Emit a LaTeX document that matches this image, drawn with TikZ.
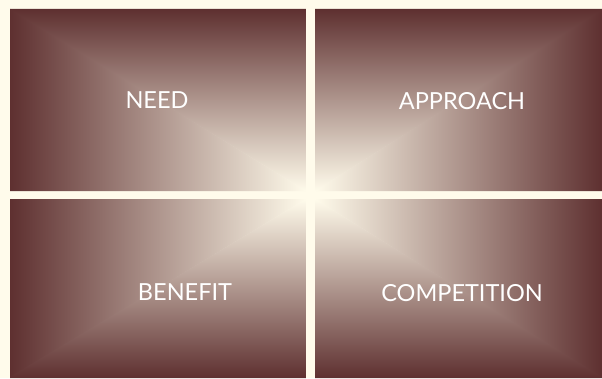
\documentclass[tikz,border=0pt]{standalone}
\usepackage{fontspec}
\setmainfont{Lato}
\definecolor{maroon}{RGB}{94,48,48}
\definecolor{cream}{RGB}{255,251,235}
\pgfdeclarehorizontalshading{hdarkleft}{100bp}{color(0bp)=(maroon); color(25bp)=(maroon); color(75bp)=(cream); color(100bp)=(cream)}
\pgfdeclarehorizontalshading{hdarkright}{100bp}{color(0bp)=(cream); color(25bp)=(cream); color(75bp)=(maroon); color(100bp)=(maroon)}
\pgfdeclareverticalshading{vdarktop}{100bp}{color(0bp)=(cream); color(25bp)=(cream); color(75bp)=(maroon); color(100bp)=(maroon)}
\pgfdeclareverticalshading{vdarkbottom}{100bp}{color(0bp)=(maroon); color(25bp)=(maroon); color(75bp)=(cream); color(100bp)=(cream)}
\tikzset{lbl/.style={text=white, font=\fontsize{23.5}{28}\selectfont, inner sep=0pt}}
\begin{document}
\begin{tikzpicture}[x=1pt,y=1pt]
\useasboundingbox (0,0) rectangle (602,378);
\fill[cream] (0,0) rectangle (602,378);
% TL: light corner (306,187)
\shade[shading=hdarkleft] (306,187) -- (10,369) -- (10,187) -- cycle;
\begin{scope}
\clip (10,187) rectangle (306,369);
\shade[shading=vdarktop] (306,187) -- (8,369) -- (306,369) -- cycle;
\end{scope}
% TR: light corner (315,187)
\shade[shading=hdarkright] (315,187) -- (602,369) -- (602,187) -- cycle;
\begin{scope}
\clip (315,187) rectangle (602,369);
\shade[shading=vdarktop] (315,187) -- (604,369) -- (315,369) -- cycle;
\end{scope}
% BL: light corner (306,179)
\shade[shading=hdarkleft] (306,179) -- (10,0) -- (10,179) -- cycle;
\begin{scope}
\clip (10,0) rectangle (306,179);
\shade[shading=vdarkbottom] (306,179) -- (8,0) -- (306,0) -- cycle;
\end{scope}
% BR: light corner (315,179)
\shade[shading=hdarkright] (315,179) -- (602,0) -- (602,179) -- cycle;
\begin{scope}
\clip (315,0) rectangle (602,179);
\shade[shading=vdarkbottom] (315,179) -- (604,0) -- (315,0) -- cycle;
\end{scope}
\node[lbl] (need) at (157,278) {NEED};
\node[lbl] (approach) at (462,277) {APPROACH};
\node[lbl] (benefit) at (185,86) {BENEFIT};
\node[lbl] (competition) at (462,85) {COMPETITION};
\end{tikzpicture}
\end{document}
